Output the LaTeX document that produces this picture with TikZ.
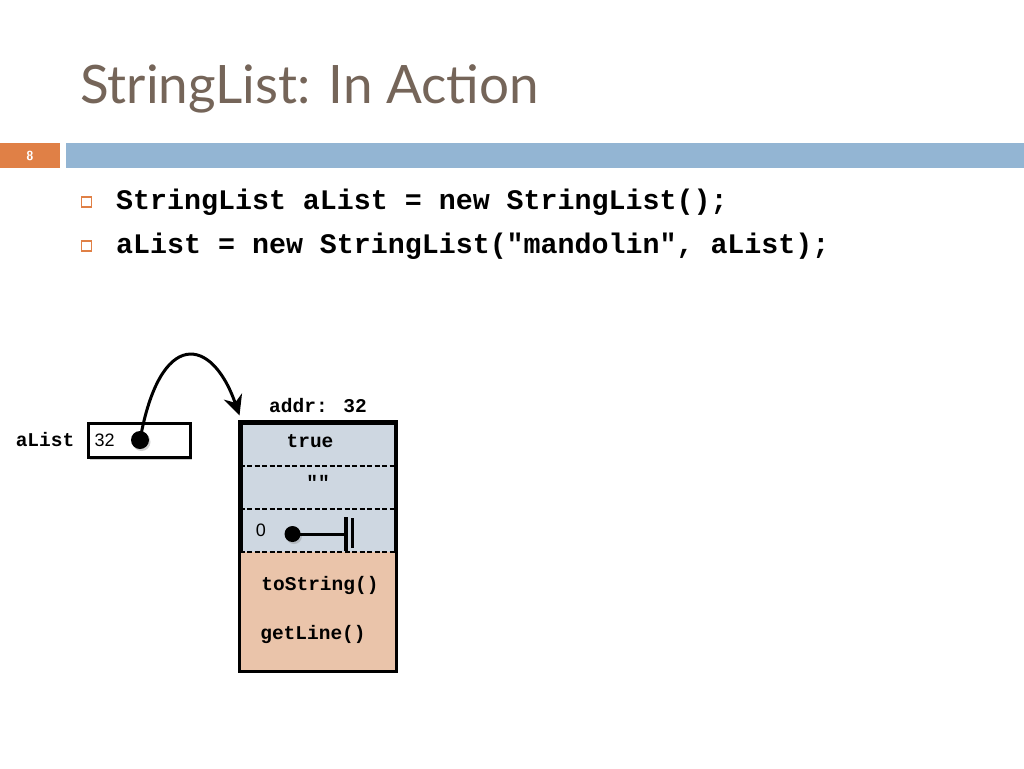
\documentclass[tikz,border=0pt]{standalone}
\usepackage{fontspec}
\setmainfont{Lato}
\newfontfamily\codefont{Liberation Mono}
\newfontfamily\plainsans{Liberation Sans}
\usetikzlibrary{positioning, arrows.meta, shadows}

\definecolor{titlegray}{RGB}{117,101,89}
\definecolor{slideorange}{RGB}{224,128,70}
\definecolor{barblue}{RGB}{147,181,211}
\definecolor{fieldblue}{RGB}{206,215,225}
\definecolor{methodpeach}{RGB}{234,196,170}

\tikzset{
  membox/.style={draw, line width=3pt, inner sep=0pt,
    drop shadow={shadow xshift=2pt, shadow yshift=-3pt, opacity=0.4}},
  codeline/.style={anchor=base west, inner sep=0pt,
    font=\codefont\bfseries\fontsize{28.3}{32}\selectfont},
  memtxt/.style={inner sep=0pt, font=\codefont\bfseries\fontsize{19.5}{22}\selectfont},
  valtxt/.style={inner sep=0pt, font=\plainsans\fontsize{18}{20}\selectfont},
  bulletbox/.style={draw=slideorange, line width=1.4pt, minimum size=10pt, inner sep=0pt},
  refdot/.style={circle, fill=black, inner sep=0pt, minimum size=#1,
    drop shadow={shadow xshift=1.5pt, shadow yshift=-2pt, opacity=0.35}}
}

\begin{document}
\begin{tikzpicture}[x=1pt, y=-1pt]
    \useasboundingbox[fill=white] (0,0) rectangle (1024,768);

    % title and header bar
    \node[anchor=base west, inner sep=0pt, text=titlegray,
          font=\fontsize{53}{60}\selectfont] (title) at (80,103) {StringList: In Action};
    \fill[slideorange] (0,143) rectangle (60,168);
    \fill[barblue] (66,143) rectangle (1024,168);
    \node[text=white, font=\sffamily\bfseries\fontsize{13}{15}\selectfont] (pagenum) at (30,155.5) {8};

    % code lines
    \node[bulletbox] (b1) at (86.5,202) {};
    \node[codeline] (line1) at (116,209) {StringList aList = new StringList();};
    \node[bulletbox] (b2) at (86.5,246) {};
    \node[codeline] (line2) at (116,253) {aList = new StringList("mandolin", aList);};

    % reference variable
    \node[membox, fill=white, minimum width=102pt, minimum height=34pt] (ref) at (139,440) {};
    \node[memtxt, left=12pt of ref] (reflbl) {aList};
    \node[valtxt, anchor=west] (refval) at ([xshift=8pt]ref.west) {32};
    \node[refdot=18pt] (rdot) at (140,440) {};

    % object on the heap
    \node[membox, fill=fieldblue, minimum width=154pt, minimum height=247pt] (obj) at (318,546.5) {};
    \fill[methodpeach] (obj.south west) rectangle (obj.east |- 0,552);
    \foreach \yy in {466,509,552}
        \draw[line width=2pt, dash pattern=on 5pt off 2.5pt] (obj.west |- 0,\yy) -- (obj.east |- 0,\yy);
    \draw[line width=3pt] (obj.south west) rectangle (obj.north east);
    \node[memtxt, above=9pt of obj] (addr) {addr: 32};

    \node[memtxt] (fld1) at (310,441) {true};
    \node[memtxt] (fld2) at (318,482) {""};
    \node[valtxt] (fld3) at (261,530) {0};
    \node[memtxt] (mth1) at (320,585) {toString()};
    \node[memtxt] (mth2) at (313,634) {getLine()};

    % null link
    \node[refdot=16pt] (ndot) at (292.5,534) {};
    \coordinate (nend) at (346,534);
    \draw[line width=3pt] (ndot.center) -- (nend);
    \draw[line width=4pt] (346,517) -- (346,551);
    \draw[line width=3pt] (352.5,518) -- (352.5,548);

    % pointer
    \coordinate (tip) at ([yshift=6pt]obj.north west);
    \draw[line width=3pt, -{Stealth[length=20pt, width=19pt]}]
        (rdot.center) .. controls (160,328) and (212,336) .. (tip);
\end{tikzpicture}
\end{document}
